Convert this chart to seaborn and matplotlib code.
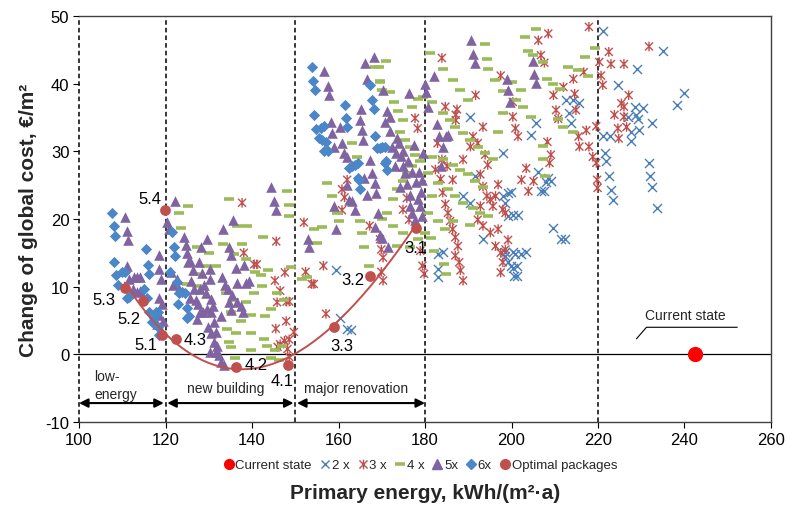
import numpy as np
import pandas as pd
import matplotlib
matplotlib.use("Agg")
import matplotlib.pyplot as plt
import seaborn as sns
from matplotlib.lines import Line2D
from matplotlib.path import Path

# ---------------------------------------------------------------- data
# Primary energy (kWh/(m2 a)) and change of global cost (EUR/m2) per package

current_pe = [242.4]
current_cost = [0.0]

two_pe = [159.4, 160.4, 161.9, 162.8, 182.9, 182.9, 182.9, 184.1, 190.5, 191.6,
          188.8, 190.5, 193.4, 198.0, 198.0, 198.6, 199.2, 199.8, 199.2, 198.4,
          198.6, 199.2, 199.8, 200.4, 200.9, 202.1, 203.3, 200.4, 201.3, 200.6,
          201.3, 200.4, 201.5, 204.4, 205.6, 206.2, 206.8, 207.4, 207.9, 208.5,
          209.1, 209.7, 211.5, 212.3, 212.6, 213.2, 214.3, 215.5, 213.8, 221.1,
          221.1, 221.6, 221.9, 222.5, 222.7, 223.1, 223.4, 224.6, 226.9, 227.7,
          227.7, 228.5, 228.9, 229.3, 229.5, 229.0, 230.4, 231.8, 232.0, 232.4,
          232.4, 233.7, 235.1, 238.3, 239.9]
two_cost = [12.5, 5.4, 3.8, 3.6, 14.8, 12.6, 11.4, 15.1, 35.1, 26.3,
            23.4, 22.4, 17.0, 29.7, 23.4, 22.4, 23.9, 24.0, 20.4, 15.1,
            14.6, 13.6, 13.1, 15.1, 14.8, 14.8, 15.1, 12.8, 13.1, 11.6,
            11.6, 20.6, 20.6, 32.4, 34.2, 26.9, 24.1, 24.1, 25.5, 26.1,
            25.6, 18.7, 17.0, 17.0, 37.6, 35.6, 37.6, 37.1, 34.2, 47.8,
            32.2, 29.7, 28.5, 26.3, 32.2, 24.3, 22.8, 39.8, 35.1, 32.9,
            31.5, 36.5, 35.3, 34.8, 33.2, 42.2, 36.4, 28.3, 26.3, 24.8,
            34.2, 21.6, 44.9, 36.8, 38.6]

three_pe = [137.7, 138.1, 140.5, 141.1, 145.6, 145.3, 146.5, 147.6, 148.0, 148.6,
            145.8, 145.5, 147.9, 147.5, 148.6, 146.5, 145.9, 148.2, 148.6, 149.7,
            152.0, 152.4, 153.8, 154.3, 156.5, 157.1, 160.8, 161.4, 160.8, 162.0,
            167.2, 169.6, 169.9, 170.3, 169.9, 170.3, 174.9, 175.8, 176.3, 177.7,
            178.3, 178.9, 179.4, 179.8,
            183.9, 184.7, 187.1, 187.4, 187.1, 182.9, 183.9, 183.6, 184.1, 184.7,
            185.3, 185.8, 186.4, 187.0, 187.6, 187.0, 187.9, 188.2, 188.8, 182.4,
            185.1, 186.4, 188.8, 190.5, 191.1, 192.2, 191.7, 193.4, 193.9, 194.5,
            192.8, 193.4, 194.3, 195.1, 195.7, 192.8, 192.2, 193.4, 195.1, 196.9,
            196.3, 197.5, 198.0, 197.5, 198.6, 199.2, 198.0, 198.6, 196.9, 196.3,
            197.5, 200.3, 200.9, 201.5, 200.3, 202.3, 203.4, 203.9, 205.1, 206.2,
            206.8, 207.6, 208.5, 208.3, 209.1, 208.8, 209.7, 210.3, 210.8, 212.0,
            214.3, 214.6, 214.9, 215.5, 215.7, 216.7, 217.3, 217.9, 217.9, 218.8,
            219.6, 219.6, 219.8, 219.9, 220.3, 220.7, 221.1, 222.5, 223.0, 223.8,
            224.6, 224.8, 225.4, 226.0, 226.0, 226.6, 226.0, 227.1, 231.8]
three_cost = [22.4, 15.0, 13.3, 13.3, 16.7, 10.9, 9.4, 12.1, 7.8, 7.8,
              7.7, 3.8, 4.9, 2.0, 2.2, 1.5, 1.1, 0.8, -0.4, 3.3,
              19.5, 12.2, 10.4, 10.4, 13.1, 6.0, 24.4, 23.2, 21.3, 25.8,
              19.0, 17.0, 15.5, 14.3, 12.2, 10.9, 21.4, 23.1, 19.9, 34.9,
              33.4, 15.3, 13.1, 11.9,
              43.8, 36.6, 35.4, 36.2, 34.6, 31.2, 28.8, 25.9, 23.9, 22.2,
              20.9, 19.7, 18.5, 17.3, 16.0, 14.6, 13.6, 12.4, 10.9, 27.3,
              27.8, 25.8, 28.8, 30.7, 32.2, 31.2, 38.3, 33.6, 29.5, 28.0,
              26.6, 24.8, 23.4, 22.9, 21.9, 21.9, 19.9, 19.0, 18.0, 18.5,
              16.0, 15.0, 13.6, 12.1, 15.5, 16.9, 21.4, 20.9, 25.1, 23.4,
              41.2, 35.1, 33.4, 32.2, 37.3, 25.8, 27.5, 24.1, 25.6, 46.4,
              44.2, 43.1, 47.4, 31.4, 29.5, 28.3, 38.3, 36.1, 34.8, 39.5,
              40.7, 38.5, 36.1, 32.2, 30.7, 41.7, 33.1, 48.4, 30.7, 29.2,
              28.3, 33.7, 25.8, 24.6, 43.2, 41.2, 39.8, 44.7, 42.9, 35.4,
              33.4, 31.9, 37.1, 36.6, 35.1, 33.6, 42.9, 38.3, 45.5]

four_pe = [123.2, 125.3, 123.5, 127.2, 130.1, 133.4, 134.6, 136.5, 138.9, 142.5,
           137.6, 135.9, 138.5, 140.6, 142.1, 143.6, 149.1, 148.0, 148.6, 148.6,
           131.7, 129.3, 126.8, 127.2, 124.9, 134.0, 135.9, 138.7, 140.4, 142.2,
           145.7, 147.5, 144.4, 142.9, 139.8, 137.5, 135.2, 134.2, 136.3, 134.6,
           135.2, 136.0, 139.8, 142.8, 143.4, 145.2, 146.9, 144.5, 146.2, 139.8,
           151.5, 152.6, 154.4, 156.2, 155.0, 157.3, 158.4, 159.6, 160.2, 163.1,
           164.3, 164.9, 165.4, 166.0, 167.0, 168.4, 169.5, 171.0, 171.8, 172.9,
           173.7, 174.8, 177.1, 178.3, 179.5, 174.2, 175.4, 176.6, 177.7, 178.9,
           177.1, 175.9, 174.8, 173.6, 172.5, 171.3, 170.1, 172.5, 174.8, 173.6,
           176.5, 178.3, 180.0, 169.3, 169.7, 170.1,
           181.2, 184.1, 186.4, 188.2, 189.9, 193.9, 194.3, 194.5, 196.3, 198.0,
           200.1, 202.1, 202.7, 203.2, 205.6, 203.7, 204.9, 207.2, 208.1, 209.5,
           211.2, 213.1, 215.4, 217.1, 219.4, 217.7, 210.7, 211.9, 214.2, 207.2,
           207.7, 181.7, 184.1, 185.8, 187.0, 188.7, 190.5, 192.2, 193.9, 195.7,
           181.7, 184.1, 186.4, 188.2, 189.9, 191.6, 193.4, 180.6, 183.0, 185.3,
           187.0, 188.8, 191.1, 192.8, 194.5, 181.7, 180.6, 183.0, 184.7, 186.4,
           190.5, 181.4, 182.0, 184.3, 184.9, 196.9, 198.0, 201.0, 204.5, 207.3]
four_cost = [20.9, 21.9, 18.6, 15.8, 15.0, 16.3, 22.9, 19.0, 19.0, 17.4,
             16.3, 14.9, 14.1, 12.1, 11.7, 12.5, 12.9, 24.1, 20.4, 22.0,
             13.1, 13.1, 11.9, 10.1, 10.4, 9.0, 8.0, 7.7, 9.1, 10.1,
             9.1, 8.1, 6.7, 5.7, 5.8, 5.0, 6.2, 3.8, 3.1, 1.8,
             1.1, -0.6, 0.6, 2.3, 1.3, 0.6, 1.3, -0.6, -0.9, 3.1,
             11.2, 11.4, 18.5, 18.8, 16.5, 25.3, 23.4, 20.9, 19.7, 31.2,
             29.2, 19.7, 18.0, 15.9, 13.1, 42.5, 40.3, 43.4, 38.8, 37.3,
             35.9, 34.7, 36.6, 37.8, 38.1, 32.9, 31.7, 30.7, 29.5, 28.5,
             27.8, 26.8, 25.6, 24.4, 22.9, 20.9, 20.0, 19.0, 18.0, 16.0,
             15.8, 17.0, 18.0, 42.5, 40.4, 39.1,
             44.5, 42.2, 40.5, 39.0, 37.6, 45.9, 43.7, 42.2, 40.5, 38.9,
             40.3, 39.0, 36.6, 46.9, 48.1, 44.9, 44.3, 43.2, 40.7, 40.0,
             39.2, 42.5, 42.0, 43.9, 45.2, 41.2, 34.8, 33.6, 32.9, 28.8,
             26.3, 37.3, 35.6, 34.6, 33.6, 32.7, 31.7, 30.7, 29.7, 28.8,
             29.2, 28.8, 28.0, 27.3, 26.6, 25.6, 24.8, 26.8, 25.3, 24.4,
             23.4, 22.4, 21.7, 20.9, 20.4, 23.4, 20.9, 19.7, 18.5, 19.7,
             19.1, 17.2, 15.2, 13.3, 11.8, 32.9, 35.6, 37.6, 35.1, 30.8]

five_pe = [110.6, 111.0, 111.3, 111.2, 111.6, 112.6, 113.4, 114.2, 112.5, 113.4,
           114.2, 118.5, 118.6, 118.9, 118.5, 119.1, 118.4, 119.3, 118.0, 119.1,
           122.1, 120.4, 120.7, 121.2, 122.6, 123.0, 121.8, 124.3, 124.7, 124.9,
           125.3, 125.6, 126.3, 125.8, 126.6, 125.6, 127.0, 127.6, 127.9, 127.8,
           128.2, 128.4, 128.8, 129.3, 129.7, 130.2, 130.3, 130.5, 130.9, 130.5,
           129.6, 128.6, 127.9, 127.3, 129.9, 131.1, 131.7, 130.5, 131.1, 130.3,
           131.7, 132.4, 132.8, 133.6, 132.0, 132.8, 133.4, 133.1, 133.8, 134.4,
           134.6, 135.2, 135.7, 136.2, 136.5, 135.4, 136.5, 137.4, 137.8, 138.5,
           139.2, 138.1, 134.6, 135.2, 144.5, 145.1, 145.5,
           152.9, 153.2, 156.7, 157.5, 157.7, 158.2, 158.5, 159.0, 159.0, 159.5,
           160.3, 160.8, 161.2, 161.9, 162.4, 163.1, 163.8, 165.4, 165.7, 164.9,
           166.1, 166.5, 168.2, 167.2, 167.8, 168.4, 168.7, 169.2, 168.4, 169.6,
           170.1, 171.5, 170.3, 171.2, 170.7, 171.9, 172.4, 173.4, 174.1, 174.4,
           174.8, 175.4, 176.2, 175.9, 176.6, 177.1, 177.7, 178.3, 178.9, 179.4,
           179.6, 179.2, 180.0, 180.3, 180.8, 182.0, 182.7, 183.2, 183.6, 184.1,
           184.8, 185.3, 174.2, 173.0, 176.0, 177.0, 178.0, 176.5, 172.0, 173.5,
           177.5, 179.0, 178.5, 175.0, 166.0, 166.5, 162.0, 165.1,
           190.7, 191.2, 191.6, 199.0, 199.2, 199.6, 205.0, 205.3, 205.6]
five_cost = [20.3, 18.3, 16.9, 13.1, 11.1, 11.4, 11.5, 11.4, 9.7, 9.2,
             9.4, 14.7, 12.6, 11.2, 8.3, 7.5, 5.8, 5.0, 4.5, 3.3,
             22.6, 19.5, 18.5, 12.1, 11.2, 9.7, 10.2, 17.4, 16.1, 15.0,
             13.6, 13.8, 12.5, 10.9, 9.7, 8.4, 8.0, 7.5, 9.7, 13.6,
             15.8, 12.0, 10.3, 9.0, 17.0, 12.6, 11.1, 8.2, 7.2, 6.2,
             6.7, 6.2, 6.3, 5.2, 4.0, 4.8, 3.3, 3.1, 1.8, 0.4,
             0.4, -0.1, -1.2, -1.6, 1.3, 5.7, 18.5, 11.4, 10.2, 9.7,
             15.9, 14.7, 19.8, 12.7, 10.6, 8.7, 7.7, 7.2, 6.2, 10.5,
             10.8, 13.2, 7.7, 6.5, 24.8, 22.6, 21.4,
             17.0, 15.8, 41.8, 39.7, 38.3, 34.4, 32.7, 30.7, 21.9, 18.5,
             33.6, 31.2, 29.7, 29.2, 22.8, 22.6, 21.3, 33.2, 31.7, 34.6,
             43.0, 40.7, 44.0, 28.7, 26.8, 25.3, 23.9, 20.9, 18.8, 17.7,
             17.2, 15.8, 39.0, 35.9, 34.3, 35.1, 30.7, 29.7, 31.2, 29.3,
             27.8, 26.8, 38.6, 25.1, 21.9, 20.9, 19.9, 22.9, 21.9, 25.8,
             29.7, 20.4, 40.0, 38.8, 36.6, 41.2, 34.1, 32.2, 27.8, 30.7,
             32.2, 32.4, 24.8, 27.8, 28.5, 27.0, 25.5, 23.5, 33.0, 32.0,
             31.0, 24.0, 27.0, 30.0, 26.0, 23.5, 25.0, 36.2,
             46.4, 44.4, 43.0, 40.7, 39.0, 37.3, 43.3, 41.5, 40.1]

six_pe = [107.6, 108.0, 108.3, 108.0, 108.6, 109.1, 110.0, 110.6, 111.0, 111.6,
          115.4, 115.9, 116.2, 115.1, 115.7, 116.2, 116.9, 117.8, 118.3, 118.6,
          118.3, 117.4, 121.4, 121.9, 122.3, 121.1, 122.6, 123.1, 123.8, 124.6,
          122.8, 125.0, 125.4, 124.9,
          153.8, 154.1, 154.5, 154.3, 154.9, 155.9, 156.7, 155.4, 156.1, 157.0,
          157.5, 156.7, 161.4, 161.8, 162.0, 162.5, 163.1, 163.8, 164.5, 164.7,
          165.0, 164.5, 167.2, 167.8, 168.1, 168.5, 169.0, 169.5, 170.1, 170.7,
          171.0, 171.3, 170.7]
six_cost = [20.9, 18.9, 17.5, 13.7, 11.7, 10.3, 12.1, 12.1, 8.4, 8.5,
            15.5, 13.2, 11.8, 9.7, 8.4, 6.3, 4.8, 6.2, 6.3, 2.9,
            4.0, 5.4, 18.1, 15.9, 14.5, 12.1, 10.7, 9.1, 9.2, 9.1,
            7.4, 6.9, 5.7, 5.4,
            42.5, 40.4, 39.0, 35.3, 33.3, 33.5, 33.7, 32.0, 31.7, 31.4,
            30.1, 30.0, 36.9, 34.9, 33.6, 27.6, 27.8, 28.0, 28.3, 25.8,
            24.5, 26.1, 39.8, 37.6, 36.2, 32.2, 30.5, 30.5, 30.7, 30.7,
            28.6, 27.2, 28.3]

optimal_labels = ["5.1", "5.2", "5.3", "5.4", "4.3", "4.2", "4.1", "3.3", "3.2", "3.1"]
optimal_pe = [119.1, 114.8, 110.6, 119.9, 122.4, 136.4, 148.3, 159.0, 167.3, 178.0]
optimal_cost = [2.9, 7.9, 9.8, 21.3, 2.3, -1.9, -1.6, 4.0, 11.6, 18.6]
label_offsets = [(-16, -10), (-14, -18), (-21, -11), (-15, 12), (19, -1),
                 (20, 3), (-6, -15), (8, -18), (-17, -4), (-1, -19)]

boundaries = [100, 120, 150, 180, 220]
ranges = [(100, 119.6, "low-\nenergy"), (120.4, 149.6, "new building"),
          (150.4, 180, "major renovation")]

# ---------------------------------------------------------------- style
BLUE = "#4A7EBB"
RED = "#C0504D"
GREEN = "#9BBB59"
PURPLE = "#8064A2"
DIAMOND = "#4A86C8"

# star marker: a cross with a vertical bar through it
STAR = Path([(-0.5, -0.5), (0.5, 0.5), (-0.5, 0.5), (0.5, -0.5), (0, -0.6), (0, 0.6)],
            [Path.MOVETO, Path.LINETO, Path.MOVETO, Path.LINETO, Path.MOVETO, Path.LINETO])

sns.set_theme(style="ticks")
plt.rcParams["font.family"] = ["Liberation Sans", "DejaVu Sans"]
plt.rcParams["axes.unicode_minus"] = False

fig = plt.figure(figsize=(7.88, 5.06), dpi=100)
ax = fig.add_axes([0.1003, 0.164, 0.8781, 0.8024])

# region boundaries and zero line
for b in boundaries:
    ax.axvline(b, color="black", lw=1.1, ls=(0, (3, 2)), zorder=1, clip_on=False)
ax.axhline(0, color="black", lw=0.9, zorder=1)

# packages, drawn in legend order
sns.scatterplot(x=current_pe, y=current_cost, color="#FF0000", marker="o", s=120,
                linewidth=0, ax=ax, zorder=3)
sns.scatterplot(x=two_pe, y=two_cost, color=BLUE, marker="x", s=42,
                linewidth=1.0, ax=ax, zorder=3)
sns.scatterplot(x=three_pe, y=three_cost, facecolor="none", edgecolor=RED,
                marker=STAR, s=48, linewidth=1.0, ax=ax, zorder=3)
sns.scatterplot(x=four_pe, y=four_cost, color=GREEN, marker="_", s=55,
                linewidth=2.6, ax=ax, zorder=3)
sns.scatterplot(x=five_pe, y=five_cost, color=PURPLE, marker="^", s=58,
                linewidth=0, ax=ax, zorder=3)
sns.scatterplot(x=six_pe, y=six_cost, color=DIAMOND, marker="D", s=33,
                linewidth=0, ax=ax, zorder=3)

# trend through optimal packages (5.4 lies off the trend)
trend_idx = [i for i, lab in enumerate(optimal_labels) if lab != "5.4"]
tx = np.array(optimal_pe)[trend_idx]
ty = np.array(optimal_cost)[trend_idx]
coef = np.polyfit(tx, ty, 3)
xs = np.linspace(tx.min(), tx.max(), 200)
ax.plot(xs, np.polyval(coef, xs), color=RED, lw=1.4, zorder=4)

sns.scatterplot(x=optimal_pe, y=optimal_cost, color=RED, marker="o", s=60,
                linewidth=0, ax=ax, zorder=5)
for lab, x, y, off in zip(optimal_labels, optimal_pe, optimal_cost, label_offsets):
    ax.annotate(lab, (x, y), xytext=off, textcoords="offset pixels",
                ha="center", va="center", fontsize=12, color="black", zorder=6)

# region arrows
for x0, x1, name in ranges:
    ax.annotate("", xy=(x1, -7.2), xytext=(x0, -7.2),
                arrowprops=dict(arrowstyle="<|-|>", color="black", lw=1.5,
                                mutation_scale=13, shrinkA=0, shrinkB=0))
ax.text(103.5, -4.5, ranges[0][2], ha="left", va="center", fontsize=10,
        linespacing=1.4)
ax.text(133.8, -4.9, ranges[1][2], ha="center", va="center", fontsize=10)
ax.text(164.0, -4.9, ranges[2][2], ha="center", va="center", fontsize=10)

# current state callout
ax.plot([228.9, 231.2, 252.2], [2.3, 4.0, 4.0], color="black", lw=0.8)
ax.text(240.2, 5.8, "Current state", ha="center", va="center", fontsize=10)

# axes
ax.set_xlim(100, 260)
ax.set_ylim(-10, 50)
ax.set_xticks(range(100, 261, 20))
ax.set_yticks(range(-10, 51, 10))
ax.tick_params(axis="both", direction="out", length=4, width=0.8,
               labelsize=12, colors="black", pad=3)
for sp in ax.spines.values():
    sp.set_color("#404040")
    sp.set_linewidth(1.0)
ax.spines["left"].set_visible(False)
ax.set_xlabel("Primary energy, kWh/(m²·a)", fontsize=15, fontweight="bold",
              labelpad=26)
ax.set_ylabel("Change of global cost, €/m²", fontsize=15, fontweight="bold",
              labelpad=5)

# legend
handles = [
    Line2D([], [], ls="", marker="o", color="#FF0000", markersize=7),
    Line2D([], [], ls="", marker="x", color=BLUE, markersize=6, markeredgewidth=1.0),
    Line2D([], [], ls="", marker=STAR, color=RED, markersize=7, markeredgewidth=1.0,
           markerfacecolor="none"),
    Line2D([], [], ls="", marker="_", color=GREEN, markersize=7, markeredgewidth=2.6),
    Line2D([], [], ls="", marker="^", color=PURPLE, markersize=7),
    Line2D([], [], ls="", marker="D", color=DIAMOND, markersize=5),
    Line2D([], [], ls="", marker="o", color=RED, markersize=7),
]
labels = ["Current state", "2 x", "3 x", "4 x", "5x", "6x", "Optimal packages"]
fig.legend(handles, labels, loc="center", bbox_to_anchor=(0.533, 0.079), ncol=7,
           frameon=False, fontsize=9.5, handletextpad=0.05, columnspacing=0.55,
           handlelength=0.9, borderaxespad=0)

fig.savefig("out.png", dpi=100)
